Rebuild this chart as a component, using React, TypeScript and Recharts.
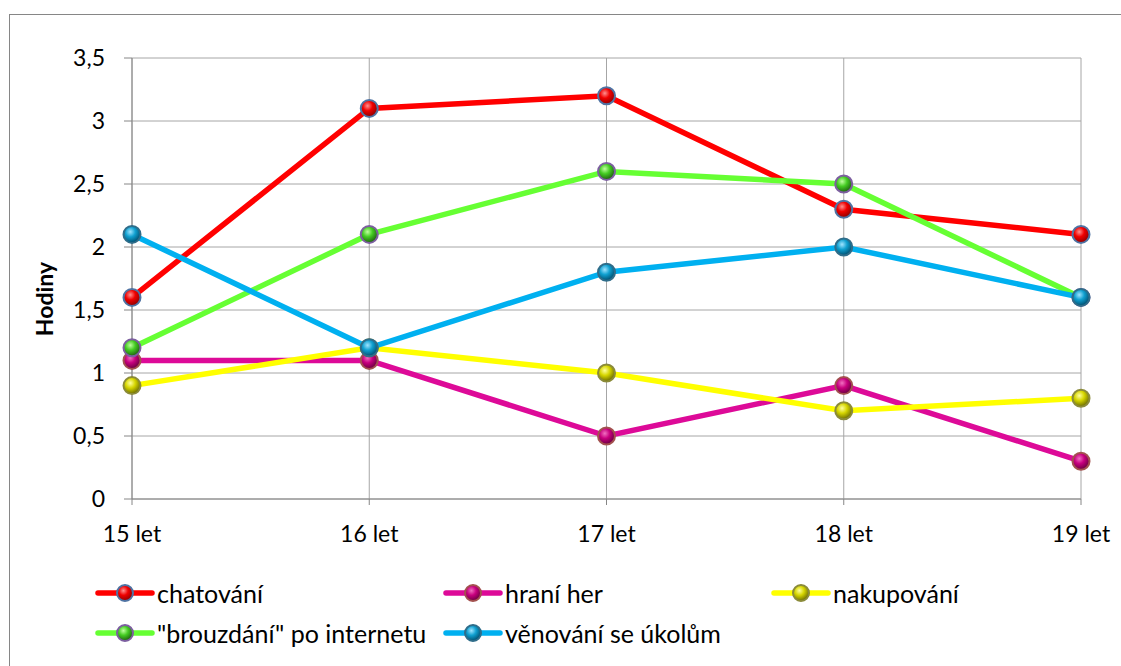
import React from 'react';
import { LineChart, Line, XAxis, YAxis, CartesianGrid, Legend } from 'recharts';

const categories = ['15 let', '16 let', '17 let', '18 let', '19 let'];
const chatovani = [1.6, 3.1, 3.2, 2.3, 2.1];
const hraniHer = [1.1, 1.1, 0.5, 0.9, 0.3];
const nakupovani = [0.9, 1.2, 1.0, 0.7, 0.8];
const brouzdani = [1.2, 2.1, 2.6, 2.5, 1.6];
const venovani = [2.1, 1.2, 1.8, 2.0, 1.6];
const yTicks = [0, 0.5, 1, 1.5, 2, 2.5, 3, 3.5];

const data = categories.map((c, i) => ({
  name: c,
  chat: chatovani[i],
  hra: hraniHer[i],
  nak: nakupovani[i],
  brou: brouzdani[i],
  ven: venovani[i],
}));

const FONT = 'Lato, "Noto Sans", sans-serif';

type S = { key: string; name: string; line: string; g: [string, string, string]; ring: string; id: string };
const series: S[] = [
  { key: 'chat', name: 'chatování', line: '#FF0000', g: ['#ff9090', '#f00000', '#900000'], ring: '#4f73a3', id: 'gChat' },
  { key: 'hra', name: 'hraní her', line: '#DD0A98', g: ['#f070c0', '#c8007f', '#6a0040'], ring: '#a3514f', id: 'gHra' },
  { key: 'nak', name: 'nakupování', line: '#FFFF00', g: ['#ffffa0', '#d6d600', '#6e6e00'], ring: '#8b8b3a', id: 'gNak' },
  { key: 'brou', name: '"brouzdání" po internetu', line: '#66FF33', g: ['#c0ffa0', '#44cc22', '#1e6010'], ring: '#7d5fa0', id: 'gBrou' },
  { key: 'ven', name: 'věnování se úkolům', line: '#00B0F0', g: ['#a0e4ff', '#10a0d0', '#004f70'], ring: '#2f6d8a', id: 'gVen' },
];

const LEG_TOP = 560;
const legendPos: { x: number; y: number }[] = [
  { x: 95, y: 593 },
  { x: 443, y: 593 },
  { x: 771, y: 593 },
  { x: 95, y: 633 },
  { x: 443, y: 633 },
];

const Grads = () => (
  <defs>
    {series.map((s) => (
      <radialGradient key={s.id} id={s.id} cx="40%" cy="35%" r="65%">
        <stop offset="0%" stopColor={s.g[0]} />
        <stop offset="45%" stopColor={s.g[1]} />
        <stop offset="100%" stopColor={s.g[2]} />
      </radialGradient>
    ))}
  </defs>
);

const LegendContent = () => (
  <div style={{ position: 'relative', width: 1121, height: 90 }}>
    {series.map((s, i) => (
      <div
        key={s.key}
        style={{
          position: 'absolute',
          left: legendPos[i].x,
          top: legendPos[i].y - LEG_TOP - 14,
          height: 28,
          display: 'flex',
          alignItems: 'center',
          whiteSpace: 'nowrap',
        }}
      >
        <svg width={60} height={22} style={{ display: 'block' }}>
          <Grads />
          <line x1={3} y1={11} x2={57} y2={11} stroke={s.line} strokeWidth={5.5} strokeLinecap="round" />
          <circle cx={30} cy={11} r={8} fill={`url(#${s.id})`} stroke={s.ring} strokeWidth={2} />
        </svg>
        <span style={{ fontFamily: FONT, fontSize: 25, color: '#000', marginLeft: 2, lineHeight: '28px' }}>
          {s.name}
        </span>
      </div>
    ))}
  </div>
);

const fmt = (v: number) => String(v).replace('.', ',');

export default function App() {
  return (
    <div style={{ position: 'absolute', left: 0, top: 0, width: 1121, height: 666, overflow: 'hidden', background: '#fff' }}>
      <div
        style={{
          position: 'absolute',
          left: 9,
          top: 14,
          width: 1300,
          height: 800,
          borderTop: '1.5px solid #868686',
          borderLeft: '1.5px solid #868686',
        }}
      />
      <div style={{ position: 'absolute', left: 0, top: 0 }}>
        <LineChart width={1121} height={666} data={data} margin={{ top: 58, right: 40, bottom: 37, left: 0 }}>
          <Grads />
          <CartesianGrid stroke="#a6a6a6" strokeWidth={1} />
          <XAxis
            dataKey="name"
            stroke="#868686"
            tickSize={6}
            tickMargin={21}
            height={40}
            tick={{ fill: '#000', fontSize: 23, fontFamily: FONT }}
            tickLine={{ stroke: '#868686' }}
            axisLine={{ stroke: '#868686' }}
          />
          <YAxis
            width={132}
            domain={[0, 3.5]}
            ticks={yTicks}
            tickFormatter={fmt}
            tickSize={8}
            tickMargin={19}
            tick={{ fill: '#000', fontSize: 23, fontFamily: FONT }}
            tickLine={{ stroke: '#868686' }}
            axisLine={{ stroke: '#868686' }}
            label={{
              content: () => (
                <text
                  x={44}
                  y={299}
                  transform="rotate(-90 44 299)"
                  textAnchor="middle"
                  dominantBaseline="central"
                  fontFamily={FONT}
                  fontWeight="bold"
                  fontSize={23}
                  fill="#000"
                >
                  Hodiny
                </text>
              ),
            }}
          />
          <Legend
            verticalAlign="bottom"
            content={<LegendContent />}
            wrapperStyle={{ position: 'absolute', left: 0, top: LEG_TOP, width: 1121, height: 90 }}
          />
          {series.map((s) => (
            <Line
              key={s.key}
              type="linear"
              dataKey={s.key}
              name={s.name}
              stroke={s.line}
              strokeWidth={5.5}
              dot={{ r: 8.5, fill: `url(#${s.id})`, stroke: s.ring, strokeWidth: 2, fillOpacity: 1 }}
              activeDot={false}
              isAnimationActive={false}
            />
          ))}
        </LineChart>
      </div>
    </div>
  );
}
